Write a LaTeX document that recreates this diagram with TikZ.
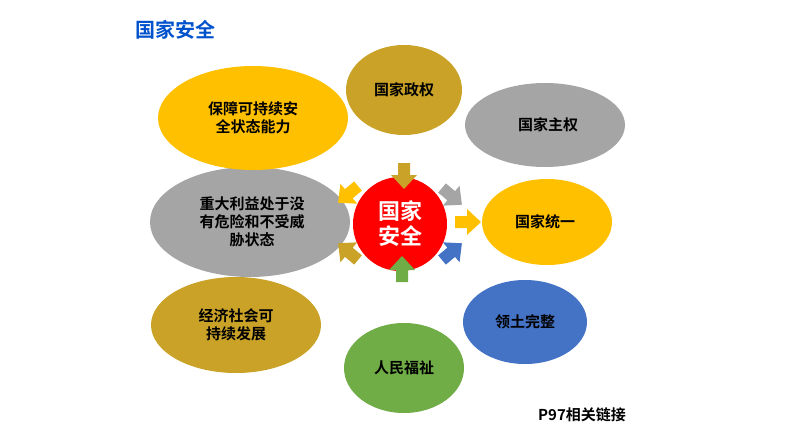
\documentclass[tikz,border=0pt]{standalone}
\usepackage{fontspec}
\setmainfont{Noto Sans CJK SC}[BoldFont={Noto Sans CJK SC Bold}]
\begin{document}
\begin{tikzpicture}[x=1pt,y=-1pt,
  ell/.style={ellipse,minimum width=#1},
  lbl/.style={font=\bfseries\fontsize{15}{18}\selectfont,align=center,text=black},
  barrow/.pic={\fill[pic actions] (0,-6)--(12,-6)--(12,-13)--(26,0)--(12,13)--(12,6)--(0,6)--cycle;}]
\useasboundingbox (0,0) rectangle (794,447);
\definecolor{gold}{HTML}{C9A227}
\definecolor{yel}{HTML}{FFC000}
\definecolor{gry}{HTML}{A5A5A5}
\definecolor{blu}{HTML}{4472C4}
\definecolor{grn}{HTML}{70AD47}
\node[font=\bfseries\fontsize{20}{24}\selectfont,text=blue!60!cyan!80!black] (title) at (175,30) {国家安全};
\fill[gold] (404,90) ellipse (58 and 45); \node[lbl] (a) at (404,90) {国家政权};
\fill[gry] (545,125) ellipse (80 and 42); \node[lbl] (b) at (548,125) {国家主权};
\fill[yel] (547,222) ellipse (65 and 43); \node[lbl] (c) at (545,222) {国家统一};
\fill[blu] (525,322) ellipse (62 and 42); \node[lbl] (d) at (525,322) {领土完整};
\fill[grn] (404,368) ellipse (60 and 45); \node[lbl] (e) at (404,368) {人民福祉};
\fill[gold] (236,325) ellipse (85 and 48); \node[lbl] (f) at (236,325) {经济社会可\\持续发展};
\fill[gry] (250,222) ellipse (100 and 55); \node[lbl] (g) at (252,222) {重大利益处于没\\有危险和不受威\\胁状态};
\fill[yel] (253,118) ellipse (95 and 52); \node[lbl] (h) at (253,118) {保障可持续安\\全状态能力};
\fill[red] (400,224) circle (47);
\node[font=\bfseries\fontsize{22}{25}\selectfont,text=white,align=center] (ctr) at (400,224) {国家\\安全};
\pic[fill=gold,rotate=-90] at (404,163) {barrow};
\pic[fill=gry,rotate=-40] at (442,188) {barrow};
\pic[fill=yel] at (455,222) {barrow};
\pic[fill=blu,rotate=40] at (442,260) {barrow};
\pic[fill=grn,rotate=90] at (402,282) {barrow};
\pic[fill=gold,rotate=140] at (358,260) {barrow};
\pic[fill=gry,rotate=180] at (346,222) {barrow};
\pic[fill=yel,rotate=-140] at (358,186) {barrow};
\node[font=\bfseries\fontsize{15}{18}\selectfont] (p) at (582,415) {P97相关链接};
\end{tikzpicture}
\end{document}
